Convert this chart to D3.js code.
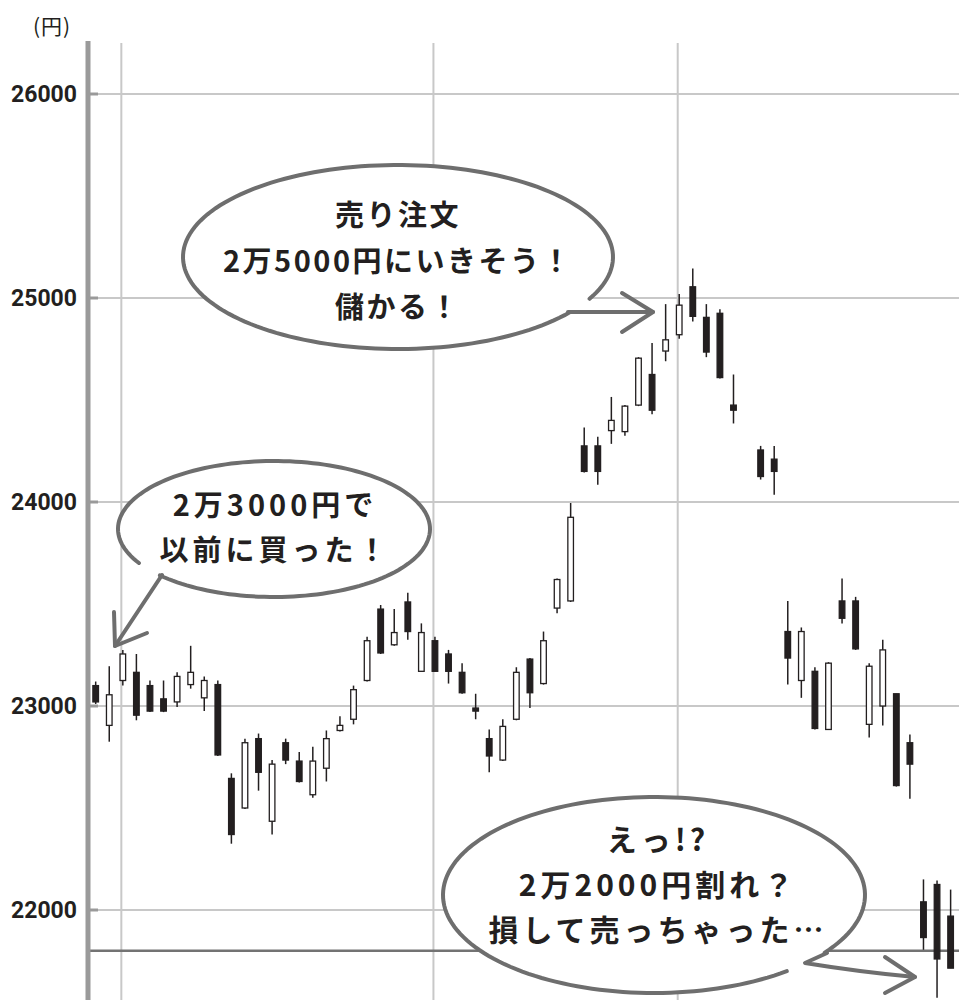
<!DOCTYPE html>
<html><head><meta charset="utf-8">
<script src="https://cdn.jsdelivr.net/npm/d3@7"></script>
<style>body{margin:0;background:#fff}svg{display:block}</style>
</head><body><svg id="c" width="959" height="1000"></svg>
<script>
// ---- data ----
const days = ["1","2","3","4","5","6","7","8","9","10","11","12","13","14","15","16","17","18","19","20",
  "21","22","23","24","25","26","27","28","29","30","31","32","33","34","35","36","37","38","39","40",
  "41","42","43","44","45","46","47","48","49","50","51","52","53","54","55","56","57","58","59","60",
  "61","62","63","64"];
const opens  = [23100,22905,23125,23165,23100,23035,23020,23105,23040,23105,22645,22500,22840,22435,22820,22730,22565,22695,22880,22935,
  23125,23475,23300,23510,23170,23320,23255,23165,22990,22840,22735,22935,23230,23110,23480,23515,24275,24275,24350,24345,
  24475,24625,24740,24820,25055,24905,24925,24475,null,24255,24210,23365,23125,23170,22885,23515,23515,22910,23000,23060,
  22820,22040,22125,21970];
const highs  = [23120,23195,23275,23255,23125,23125,23165,23295,23145,23125,22670,22840,22865,22735,22840,22775,22800,22880,22950,23100,
  23340,23495,23475,23555,23405,23340,23275,23210,23060,22885,22935,23190,23235,23365,23625,23995,24365,24320,24515,24475,
  24710,24780,24970,25020,25145,24970,24945,24625,null,24275,24275,23515,23385,23190,23215,23625,23535,23210,23325,23060,
  22860,22150,22145,22100];
const lows   = [23010,22825,23100,22930,22970,22970,22995,23085,22975,22755,22325,22495,22585,22370,22715,22625,22550,22630,22875,22910,
  23120,23255,23295,23325,23170,23170,23110,23060,22935,22675,22730,22930,22990,23105,23455,23510,24145,24085,24285,24325,
  24470,24430,24690,24800,24885,24710,24605,24385,null,24110,24035,23105,23040,22885,22885,23405,23275,22845,22905,22605,
  22545,21805,21570,21715];
const closes = [23020,23055,23255,22955,22975,22975,23145,23165,23125,22760,22370,22820,22675,22715,22735,22630,22730,22840,22905,23080,
  23320,23260,23360,23365,23360,23170,23170,23065,22975,22755,22900,23165,23065,23320,23620,23925,24150,24150,24400,24470,
  24705,24450,24795,24965,24910,24735,24610,24450,null,24125,24150,23235,23365,22890,23210,23430,23280,23195,23275,22610,
  22715,21865,21760,21715];
const yTicks = [22000, 23000, 24000, 25000, 26000];
const gridDays = ["3", "26", "44"];
const refLevel = 21800;
const unitLabel = "(円)";
const note1 = ["売り注文", "2万5000円にいきそう！", "儲かる！"];
const note2 = ["2万3000円で", "以前に買った！"];
const note3 = ["えっ!?", "2万2000円割れ？", "損して売っちゃった…"];

// ---- layout ----
const svg = d3.select("#c");
const W = 959, H = 1000, plotLeft = 88, plotTop = 41;
const x = d3.scaleBand().domain(days).range([88.9, 957.4]).padding(0);
const y = d3.scaleLinear().domain([22000, 26000]).range([910, 94]);
const cx = d => x(d) + x.bandwidth() / 2;
const ink = "#231f20";

// grid
const g = svg.append("g");
g.selectAll("line.h").data(yTicks).join("line").attr("class", "h")
  .attr("x1", plotLeft).attr("x2", W).attr("y1", d => y(d)).attr("y2", d => y(d))
  .attr("stroke", "#c8c8c8").attr("stroke-width", 2);
g.selectAll("line.v").data(gridDays).join("line").attr("class", "v")
  .attr("x1", d => cx(d) - 1.5).attr("x2", d => cx(d) - 1.5).attr("y1", plotTop + 2).attr("y2", H)
  .attr("stroke", "#c8c8c8").attr("stroke-width", 2);
g.append("line").attr("x1", plotLeft).attr("x2", W).attr("y1", y(refLevel)).attr("y2", y(refLevel))
  .attr("stroke", "#737373").attr("stroke-width", 2.6);

// y axis
const axis = d3.axisLeft(y).tickValues(yTicks).tickSize(0).tickPadding(11).tickFormat(d3.format("d"));
const ag = svg.append("g").attr("transform", `translate(${plotLeft},0)`).call(axis);
ag.select(".domain").remove();
ag.selectAll("text").attr("font-family", "Roboto, 'Liberation Sans', sans-serif")
  .attr("font-weight", "bold").attr("font-size", 23).attr("fill", ink);
svg.selectAll("line.tk").data(yTicks).join("line").attr("class", "tk")
  .attr("x1", plotLeft).attr("x2", plotLeft + 10).attr("y1", d => y(d)).attr("y2", d => y(d))
  .attr("stroke", "#9a9a9a").attr("stroke-width", 3);
svg.append("line").attr("x1", plotLeft).attr("x2", plotLeft).attr("y1", plotTop).attr("y2", H)
  .attr("stroke", "#9a9a9a").attr("stroke-width", 5);
svg.append("text").attr("x", 52).attr("y", 25).attr("text-anchor", "middle").attr("dominant-baseline", "central")
  .attr("font-family", "'Noto Sans CJK JP', sans-serif").attr("font-size", 21).attr("letter-spacing", 1)
  .attr("fill", ink).text(unitLabel);

// candles
const candles = days.map((d, i) => ({ d, o: opens[i], h: highs[i], l: lows[i], c: closes[i] })).filter(k => k.o != null);
const cg = svg.append("g");
cg.selectAll("line.w").data(candles).join("line").attr("class", "w")
  .attr("x1", k => cx(k.d)).attr("x2", k => cx(k.d)).attr("y1", k => y(k.h)).attr("y2", k => y(k.l))
  .attr("stroke", ink).attr("stroke-width", 1.5);
cg.selectAll("rect").data(candles).join("rect")
  .attr("x", k => cx(k.d) - 2.8).attr("width", 5.6)
  .attr("y", k => y(Math.max(k.o, k.c)))
  .attr("height", k => Math.max(1.5, Math.abs(y(k.o) - y(k.c))))
  .attr("fill", k => k.c >= k.o ? "#fff" : ink)
  .attr("stroke", ink).attr("stroke-width", 1.3);

// speech bubbles
const bubbleStroke = "#6e6e6e";
function arcPts(b, a0, a1) {
  const n = 160;
  return d3.range(n + 1).map(k => {
    const a = (a0 + (a1 - a0) * k / n) * Math.PI / 180;
    return [b.cx + b.rx * Math.cos(a), b.cy + b.ry * Math.sin(a)];
  });
}
const lineGen = d3.line();
function bubble(b, lines) {
  const bg = svg.append("g");
  bg.append("ellipse").attr("cx", b.cx).attr("cy", b.cy).attr("rx", b.rx).attr("ry", b.ry).attr("fill", "#fff");
  bg.append("path").attr("d", lineGen(arcPts(b, b.a0, b.a1))).attr("fill", "none")
    .attr("stroke", bubbleStroke).attr("stroke-width", 4).attr("stroke-linecap", "round");
  bg.append("path").attr("d", b.tail).attr("fill", "none")
    .attr("stroke", bubbleStroke).attr("stroke-width", 4).attr("stroke-linecap", "round").attr("stroke-linejoin", "round");
  bg.append("path").attr("d", b.head).attr("fill", "none")
    .attr("stroke", bubbleStroke).attr("stroke-width", 4).attr("stroke-linecap", "round").attr("stroke-linejoin", "round");
  bg.selectAll("text").data(lines).join("text")
    .attr("x", b.tx).attr("y", (d, i) => b.ty + i * b.lh)
    .attr("text-anchor", "middle").attr("dominant-baseline", "central")
    .attr("font-family", "'Noto Sans CJK JP', sans-serif").attr("font-weight", "bold")
    .attr("font-size", b.fs).attr("letter-spacing", b.ls).attr("fill", ink).text(d => d);
}
bubble({cx: 398, cy: 257, rx: 215, ry: 92, a0: 37, a1: 387,
  tail: "M568,312 L653,312", head: "M622,293 L653,312 L622,332",
  tx: 398, ty: 213, lh: 46, fs: 29, ls: 2.5}, note1);
bubble({cx: 274, cy: 529, rx: 156, ry: 68, a0: 150, a1: 497,
  tail: "M162,575 L115,646", head: "M114,612 L115,646 L147,633",
  tx: 275, ty: 503, lh: 45, fs: 29, ls: 4}, note2);
bubble({cx: 654, cy: 895, rx: 211, ry: 98, a0: 51, a1: 396,
  tail: "M827,953 L805,963 Q860,972 915,977", head: "M885,957 L915,977 L885,993",
  tx: 658, ty: 838, lh: 45, fs: 30, ls: 4}, note3);
</script></body></html>
